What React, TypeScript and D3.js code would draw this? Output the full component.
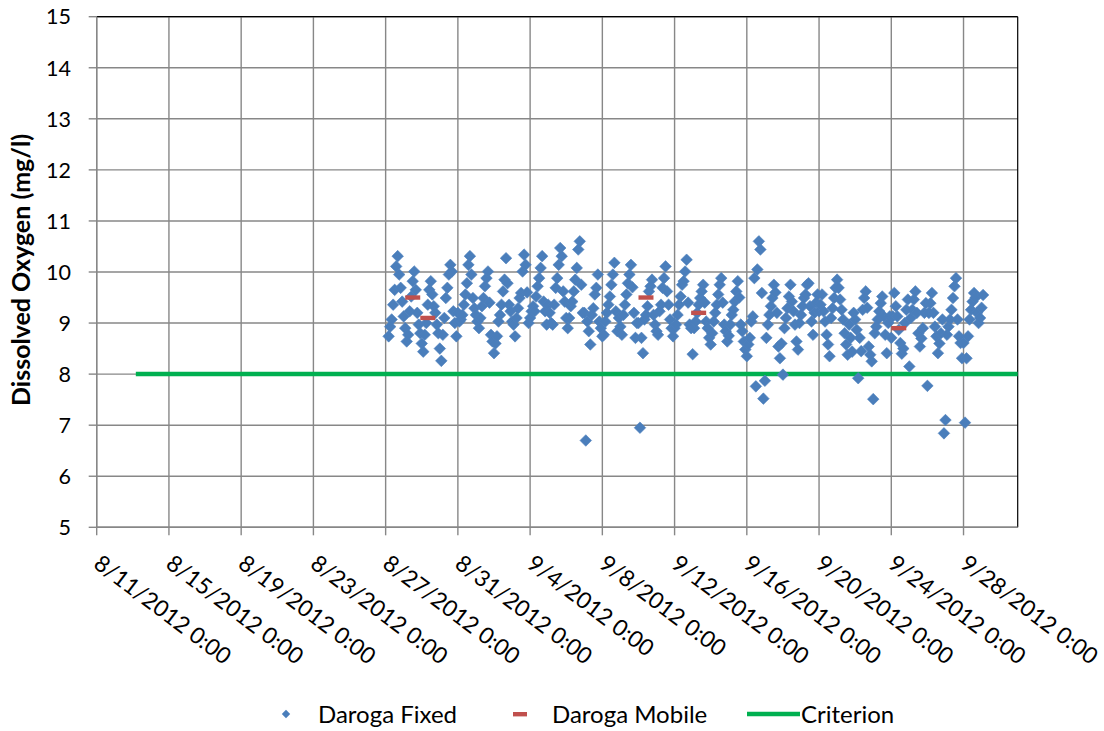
import React from "react";
import * as d3 from "d3";

// Daroga Fixed: dissolved oxygen (mg/l), 2-hourly readings starting 8/27/2012 04:00
const fixedStart = new Date(2012, 7, 27, 4);
const fixedStepHours = 2;
const fixedValues: number[] = [
  // 8/27 (from 04:00)
  8.74, 8.93, 9.07, 9.36, 9.65, 10.11, 10.31, 9.95, 9.69, 9.42,
  // 8/28
  9.13, 8.9, 8.64, 8.77, 9.23, 9.52, 9.82, 10.01, 9.65, 9.2, 8.97, 8.8,
  // 8/29
  8.6, 8.44, 8.77, 9.0, 9.36, 9.65, 9.82, 9.56, 9.33, 9.2, 8.97, 8.8,
  // 8/30
  8.5, 8.26, 8.77, 9.1, 9.49, 9.69, 9.95, 10.14, 10.01, 9.23, 9.0, 8.74,
  // 8/31
  9.2, 9.03, 9.07, 9.16, 9.36, 9.56, 9.78, 10.14, 10.31, 9.95, 9.49, 9.29,
  // 9/1
  9.16, 9.03, 8.9, 9.1, 9.33, 9.49, 9.72, 9.88, 10.01, 9.4, 8.77, 8.64,
  // 9/2
  8.41, 8.6, 8.74, 9.03, 9.16, 9.36, 9.62, 9.85, 10.27, 9.78, 9.36, 9.23,
  // 9/3
  9.03, 8.97, 8.74, 9.1, 9.29, 9.49, 9.59, 10.01, 10.34, 10.14, 9.6, 9.0,
  // 9/4
  9.1, 9.23, 9.33, 9.23, 9.52, 9.72, 9.88, 10.08, 10.31, 9.42, 9.23, 8.97,
  // 9/5
  9.36, 9.2, 9.0, 8.97, 9.36, 9.69, 9.88, 10.14, 10.47, 10.31, 9.62, 9.42,
  // 9/6
  9.1, 8.9, 9.1, 9.33, 9.42, 9.62, 9.85, 10.08, 10.44, 10.6, 9.75, 9.2,
  // 9/7
  9.2, 6.7, 9.03, 8.84, 8.58, 9.16, 9.29, 9.56, 9.69, 9.95, 9.03, 8.9,
  // 9/8
  8.74, 8.77, 9.03, 9.2, 9.36, 9.52, 9.75, 9.95, 10.18, 9.23, 8.84, 9.1,
  // 9/9
  8.93, 8.77, 9.16, 9.36, 9.56, 9.78, 9.95, 10.14, 9.7, 9.2, 8.71, 9.0,
  // 9/10
  9.0, 6.95, 8.71, 8.41, 9.07, 9.16, 9.33, 9.62, 9.72, 9.85, 9.16, 8.97,
  // 9/11
  8.84, 8.77, 9.23, 9.36, 9.69, 9.88, 10.11, 9.62, 9.36, 9.07, 8.9, 8.74,
  // 9/12
  8.9, 8.97, 9.16, 9.36, 9.52, 9.75, 9.82, 10.01, 10.24, 9.4, 8.97, 8.9,
  // 9/13
  8.39, 8.9, 9.03, 9.2, 9.36, 9.49, 9.62, 9.75, 9.4, 9.03, 8.9, 8.71,
  // 9/14
  8.58, 8.8, 9.03, 9.2, 9.36, 9.56, 9.75, 9.88, 9.4, 8.97, 8.84, 8.64,
  // 9/15
  8.75, 8.97, 9.16, 9.26, 9.42, 9.62, 9.82, 9.5, 8.97, 8.84, 8.64, 8.48,
  // 9/16
  8.35, 8.58, 8.71, 9.03, 9.13, 9.88, 7.76, 10.05, 10.6, 10.44, 9.59, 7.52,
  // 9/17
  7.87, 8.71, 8.97, 9.16, 9.33, 9.49, 9.75, 9.6, 9.2, 8.54, 8.31, 8.6,
  // 9/18
  7.99, 8.9, 9.1, 9.29, 9.52, 9.75, 9.42, 9.23, 8.97, 8.64, 8.48, 9.0,
  // 9/19
  9.16, 9.33, 9.49, 9.56, 9.75, 9.78, 9.33, 9.03, 8.77, 9.2, 9.4, 9.56,
  // 9/20
  9.23, 9.36, 9.56, 9.23, 9.03, 8.77, 8.58, 8.35, 9.1, 9.29, 9.49, 9.69,
  // 9/21
  9.85, 9.69, 9.46, 9.26, 9.07, 8.8, 8.58, 8.38, 8.97, 8.71, 8.44, 9.2,
  // 9/22
  9.07, 8.87, 7.92, 8.71, 8.45, 9.26, 9.49, 9.62, 9.3, 8.54, 8.38, 8.25,
  // 9/23
  7.51, 8.8, 8.93, 9.07, 9.23, 9.39, 9.52, 9.13, 8.77, 8.41, 9.0, 9.13,
  // 9/24
  8.71, 9.13, 9.59, 9.33, 9.13, 8.87, 8.61, 8.4, 8.5, 9.0, 9.26, 9.46,
  // 9/25
  8.15, 9.1, 9.26, 9.46, 9.62, 9.2, 8.8, 8.54, 8.7, 8.9, 9.2, 9.39,
  // 9/26
  7.77, 9.2, 9.39, 9.59, 9.2, 8.93, 8.74, 8.41, 8.6, 8.8, 9.07, 6.84,
  // 9/27
  7.1, 8.77, 8.93, 9.07, 9.26, 9.49, 9.72, 9.88, 9.07, 8.74, 8.61, 8.31,
  // 9/28
  8.61, 7.05, 8.31, 8.74, 9.07, 9.26, 9.42, 9.59, 9.5, 9.2, 9.0, 9.1,
  // 9/29
  9.3, 9.55,
];

// Daroga Mobile: spot samples
const mobileTimes = [
  new Date(2012, 7, 28, 12),
  new Date(2012, 7, 29, 8),
  new Date(2012, 8, 10, 10),
  new Date(2012, 8, 13, 8),
  new Date(2012, 8, 24, 10),
];
const mobileValues = [9.5, 9.1, 9.5, 9.2, 8.9];

// Criterion
const criterionTimes = [new Date(2012, 7, 13, 4), new Date(2012, 9, 1)];
const criterionValues = [8, 8];

// Axes
const xTickDates = [
  "8/11/2012", "8/15/2012", "8/19/2012", "8/23/2012", "8/27/2012", "8/31/2012",
  "9/4/2012", "9/8/2012", "9/12/2012", "9/16/2012", "9/20/2012", "9/24/2012", "9/28/2012",
];
const yTicks = [5, 6, 7, 8, 9, 10, 11, 12, 13, 14, 15];

const FONT = "Lato, 'Open Sans', sans-serif";
const GRID = "#878787";

function parseDate(s: string) {
  const [m, d, y] = s.split("/").map(Number);
  return new Date(y, m - 1, d);
}

export default function App() {
  const left = 96.7, right = 1017.7, top = 16.7, bottom = 527.3;
  const x = d3.scaleTime().domain([new Date(2012, 7, 11), new Date(2012, 9, 1)]).range([left, right]);
  const y = d3.scaleLinear().domain([5, 15]).range([bottom, top]);

  const fixed = fixedValues.map((v, i) => ({
    t: d3.timeHour.offset(fixedStart, i * fixedStepHours),
    v,
  }));
  const mobile = mobileValues.map((v, i) => ({ t: mobileTimes[i], v }));
  const criterion = criterionValues.map((v, i) => ({ t: criterionTimes[i], v }));

  const line = d3
    .line<{ t: Date; v: number }>()
    .x((d) => x(d.t))
    .y((d) => y(d.v));

  const diamond = "M0,-5.8L5.8,0L0,5.8L-5.8,0Z";

  return (
    <svg
      width={1104}
      height={731}
      style={{ position: "absolute", left: 0, top: 0, background: "#fff" }}
      fontFamily={FONT}
    >
      {/* gridlines */}
      {yTicks.map((t) => (
        <line key={"gy" + t} x1={left} x2={right} y1={y(t)} y2={y(t)} stroke={GRID} strokeWidth={1.4} />
      ))}
      {xTickDates.map((s) => {
        const xx = x(parseDate(s));
        return <line key={"gx" + s} x1={xx} x2={xx} y1={top} y2={bottom} stroke={GRID} strokeWidth={1.4} />;
      })}
      {/* plot frame */}
      <line x1={left} x2={right} y1={top} y2={top} stroke="#000" strokeWidth={1.2} />
      <line x1={right} x2={right} y1={top} y2={bottom} stroke="#000" strokeWidth={1.2} />
      <line x1={left} x2={left} y1={top} y2={bottom} stroke={GRID} strokeWidth={1.4} />
      <line x1={left} x2={right} y1={bottom} y2={bottom} stroke={GRID} strokeWidth={1.4} />

      {/* y axis ticks + labels */}
      {yTicks.map((t) => (
        <g key={"yt" + t}>
          <line x1={left - 8} x2={left} y1={y(t)} y2={y(t)} stroke={GRID} strokeWidth={1.4} />
          <text x={71} y={y(t)} dy="0.36em" textAnchor="end" fontSize={21.5} fill="#000">
            {t}
          </text>
        </g>
      ))}

      {/* x axis ticks + rotated labels */}
      {xTickDates.map((s) => {
        const xx = x(parseDate(s));
        return (
          <g key={"xt" + s}>
            <line x1={xx} x2={xx} y1={bottom} y2={bottom + 8} stroke={GRID} strokeWidth={1.4} />
            <text
              transform={`translate(${xx - 4.5},${566.5}) rotate(37)`}
              fontSize={22.8}
              fill="#000"
            >
              {s + " 0:00"}
            </text>
          </g>
        );
      })}

      {/* y axis title */}
      <text
        transform={`translate(${29.5},${270}) rotate(-90)`}
        textAnchor="middle"
        fontSize={25}
        fontWeight="bold"
        fill="#000"
      >
        Dissolved Oxygen (mg/l)
      </text>

      {/* Criterion */}
      <path d={line(criterion) ?? ""} fill="none" stroke="#00B050" strokeWidth={4.5} />

      {/* Daroga Fixed */}
      {fixed.map((d, i) => (
        <path
          key={"f" + i}
          d={diamond}
          transform={`translate(${x(d.t)},${y(d.v)})`}
          fill="#4A7EBB"
          stroke="#4F81BD"
          strokeWidth={0.6}
        />
      ))}

      {/* Daroga Mobile */}
      {mobile.map((d, i) => (
        <rect key={"m" + i} x={x(d.t) - 7.5} y={y(d.v) - 2.2} width={15} height={4.4} fill="#C0504D" />
      ))}

      {/* legend */}
      <g fontSize={24}>
        <path d="M0,-4.2L4.2,0L0,4.2L-4.2,0Z" transform="translate(286,714)" fill="#4A7EBB" />
        <text x={318} y={714} dy="0.36em" fill="#000">
          Daroga Fixed
        </text>
        <rect x={513} y={712} width={14} height={4.4} fill="#C0504D" />
        <text x={552} y={714} dy="0.36em" fill="#000">
          Daroga Mobile
        </text>
        <line x1={747} x2={800} y1={714} y2={714} stroke="#00B050" strokeWidth={4.5} />
        <text x={801} y={714} dy="0.36em" fill="#000">
          Criterion
        </text>
      </g>
    </svg>
  );
}
